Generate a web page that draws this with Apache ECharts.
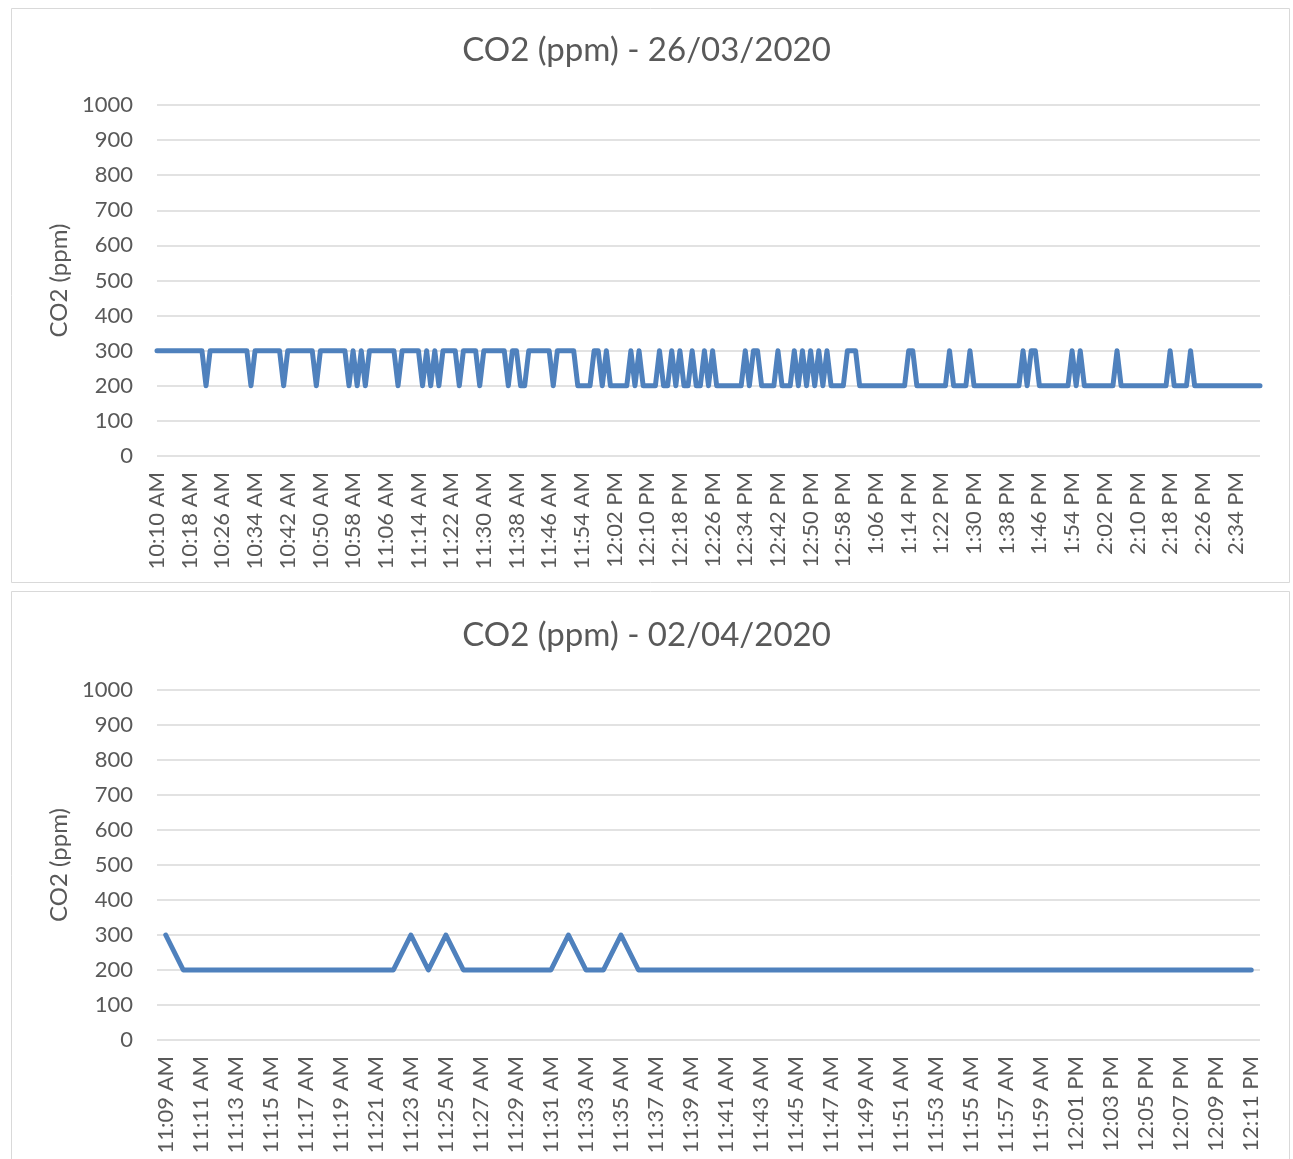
<!DOCTYPE html>
<html lang="en" style="height: 100%">
<head>
  <meta charset="UTF-8">
  <title>CO2 (ppm)</title>
</head>
<body style="height: 100%; margin: 0; background: #fff">
  <div id="container" style="width: 1293px; height: 1159px"></div>

  <script type="text/javascript" src="https://fastly.jsdelivr.net/npm/echarts@6/dist/echarts.min.js"></script>
  <script type="text/javascript">
    // chart 1: 26/03/2020, one reading per minute from 10:10 AM to 2:40 PM
    var titles = ['CO2 (ppm) - 26/03/2020', 'CO2 (ppm) - 02/04/2020'];
    var yName = 'CO2 (ppm)';

    var co2Day1 = [
      300, 300, 300, 300, 300, 300, 300, 300, 300, 300,
      300, 300, 200, 300, 300, 300, 300, 300, 300, 300,
      300, 300, 300, 200, 300, 300, 300, 300, 300, 300,
      300, 200, 300, 300, 300, 300, 300, 300, 300, 200,
      300, 300, 300, 300, 300, 300, 300, 200, 300, 200,
      300, 200, 300, 300, 300, 300, 300, 300, 300, 200,
      300, 300, 300, 300, 300, 200, 300, 200, 300, 200,
      300, 300, 300, 300, 200, 300, 300, 300, 300, 200,
      300, 300, 300, 300, 300, 300, 200, 300, 300, 200,
      200, 300, 300, 300, 300, 300, 300, 200, 300, 300,
      300, 300, 300, 200, 200, 200, 200, 300, 300, 200,
      300, 200, 200, 200, 200, 200, 300, 200, 300, 200,
      200, 200, 200, 300, 200, 200, 300, 200, 300, 200,
      200, 300, 200, 200, 300, 200, 300, 200, 200, 200,
      200, 200, 200, 200, 300, 200, 300, 300, 200, 200,
      200, 200, 300, 200, 200, 200, 300, 200, 300, 200,
      300, 200, 300, 200, 300, 200, 200, 200, 200, 300,
      300, 300, 200, 200, 200, 200, 200, 200, 200, 200,
      200, 200, 200, 200, 300, 300, 200, 200, 200, 200,
      200, 200, 200, 200, 300, 200, 200, 200, 200, 300,
      200, 200, 200, 200, 200, 200, 200, 200, 200, 200,
      200, 200, 300, 200, 300, 300, 200, 200, 200, 200,
      200, 200, 200, 200, 300, 200, 300, 200, 200, 200,
      200, 200, 200, 200, 200, 300, 200, 200, 200, 200,
      200, 200, 200, 200, 200, 200, 200, 200, 300, 200,
      200, 200, 200, 300, 200, 200, 200, 200, 200, 200,
      200, 200, 200, 200, 200, 200, 200, 200, 200, 200,
      200
    ];

    // chart 2: 02/04/2020, one reading per minute from 11:09 AM to 12:11 PM
    var co2Day2 = [
      300, 200, 200, 200, 200, 200, 200, 200, 200, 200,
      200, 200, 200, 200, 300, 200, 300, 200, 200, 200,
      200, 200, 200, 300, 200, 200, 300, 200, 200, 200,
      200, 200, 200, 200, 200, 200, 200, 200, 200, 200,
      200, 200, 200, 200, 200, 200, 200, 200, 200, 200,
      200, 200, 200, 200, 200, 200, 200, 200, 200, 200,
      200, 200, 200
    ];

    // minute-by-minute category labels, "h:mm AM"
    function minuteLabels(h, m, count) {
      var out = [];
      for (var i = 0; i < count; i++) {
        var t = h * 60 + m + i;
        var hh = Math.floor(t / 60), mm = t % 60;
        var h12 = hh % 12 === 0 ? 12 : hh % 12;
        out.push(h12 + ':' + (mm < 10 ? '0' : '') + mm + (hh < 12 ? ' AM' : ' PM'));
      }
      return out;
    }
    var timesDay1 = minuteLabels(10, 10, co2Day1.length);
    var timesDay2 = minuteLabels(11, 9, co2Day2.length);

    var FONT = 'Lato';
    var TEXT = '#595959';
    var GRID = '#d9d9d9';
    var BLUE = '#4f81bd';

    var chart = echarts.init(document.getElementById('container'), null, { renderer: 'canvas' });

    function xAxisFor(idx, cats, every, gap) {
      return {
        type: 'category',
        gridIndex: idx,
        data: cats,
        boundaryGap: gap,
        axisLine: { show: false },
        axisTick: { show: false },
        axisLabel: {
          interval: every,
          rotate: 90,
          margin: 16,
          color: TEXT,
          fontFamily: FONT,
          fontSize: 22
        }
      };
    }

    function yAxisFor(idx) {
      return {
        type: 'value',
        gridIndex: idx,
        min: 0,
        max: 1000,
        interval: 100,
        name: yName,
        nameLocation: 'middle',
        nameRotate: 90,
        nameGap: 82,
        nameTextStyle: { color: TEXT, fontFamily: FONT, fontSize: 24 },
        axisLine: { show: false },
        axisTick: { show: false },
        axisLabel: {
          color: TEXT, fontFamily: FONT, fontSize: 22, margin: 24,
          formatter: function (v) { return String(v); }
        },
        splitLine: { lineStyle: { color: GRID, width: 1.5 } }
      };
    }

    function lineFor(idx, values) {
      return {
        type: 'line',
        xAxisIndex: idx,
        yAxisIndex: idx,
        data: values,
        symbol: 'none',
        animation: false,
        lineStyle: { color: BLUE, width: 5, cap: 'round', join: 'round' }
      };
    }

    var option = {
      backgroundColor: '#fff',
      animation: false,
      title: [
        { text: titles[0], left: 'center', top: 29, textStyle: { color: TEXT, fontFamily: FONT, fontSize: 33, fontWeight: 'normal' } },
        { text: titles[1], left: 'center', top: 614, textStyle: { color: TEXT, fontFamily: FONT, fontSize: 33, fontWeight: 'normal' } }
      ],
      graphic: [
        { type: 'rect', shape: { x: 11.5, y: 8.5, width: 1278, height: 574 }, style: { fill: 'none', stroke: GRID, lineWidth: 1 }, silent: true },
        { type: 'rect', shape: { x: 11.5, y: 591.5, width: 1278, height: 600 }, style: { fill: 'none', stroke: GRID, lineWidth: 1 }, silent: true }
      ],
      grid: [
        { left: 157, top: 105, width: 1103, height: 351 },
        { left: 157, top: 690, width: 1103, height: 350 }
      ],
      xAxis: [xAxisFor(0, timesDay1, 7, false), xAxisFor(1, timesDay2, 1, true)],
      yAxis: [yAxisFor(0), yAxisFor(1)],
      series: [lineFor(0, co2Day1), lineFor(1, co2Day2)]
    };

    chart.setOption(option);
    window.addEventListener('resize', chart.resize);
  </script>
</body>
</html>
